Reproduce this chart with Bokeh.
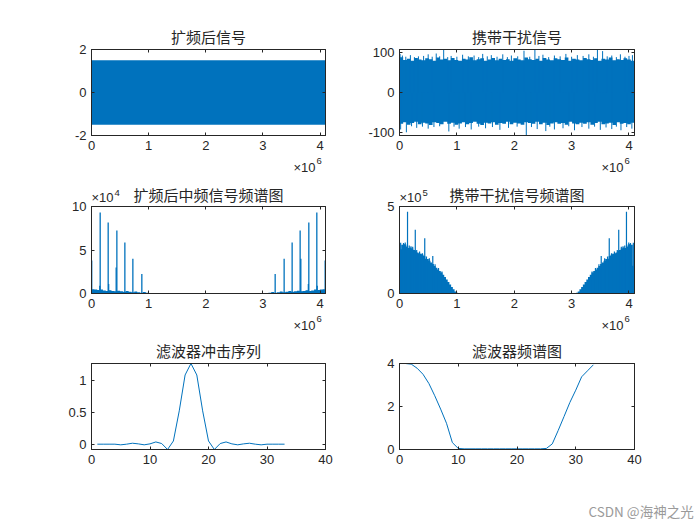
import numpy as np
from bokeh.plotting import figure
from bokeh.models import Range1d, FixedTicker, CustomJSTickFormatter, LinearAxis
from bokeh.core.properties import value
from bokeh.layouts import column, row
from bokeh.embed import file_html
from bokeh.resources import INLINE

BLUE = "#0072BD"
AX = "#262626"
CJK = "Noto Sans CJK SC"
LAT = "Liberation Sans"

# ---------------- data ----------------
titles = ["扩频后信号", "携带干扰信号", "扩频后中频信号频谱图", "携带干扰信号频谱图", "滤波器冲击序列", "滤波器频谱图"]
N_TOTAL = 4096000
x_ticks_big = [0, 1000000, 2000000, 3000000, 4000000]

# panel 1: spread signal envelope
sig1_x = [0, 4096000]
sig1_hi = [1.5, 1.5]
sig1_lo = [-1.5, -1.5]

# panel 2: jammed signal envelope (64 bins) + spikes
sig2_hi = [88, 81, 84, 79, 86, 82, 80, 85, 83, 79, 87, 82, 84, 80, 86, 81, 79, 84, 82, 88, 80, 83, 85, 79, 82, 86, 80, 84, 81, 83, 79, 85,
           82, 80, 87, 83, 81, 84, 79, 86, 82, 80, 85, 83, 81, 87, 79, 84, 82, 80, 86, 83, 81, 85, 79, 84, 82, 87, 80, 83, 81, 85, 82, 79]
sig2_lo = [-78, -74, -80, -76, -73, -79, -75, -77, -81, -74, -76, -79, -73, -78, -75, -80, -77, -74, -79, -76, -73, -78, -81, -75, -77, -74, -80, -76, -78, -73, -79, -75,
           -77, -80, -74, -76, -78, -73, -79, -75, -81, -77, -74, -78, -76, -80, -73, -77, -79, -75, -78, -74, -80, -76, -73, -79, -77, -75, -81, -74, -78, -76, -79, -75]
spk2_up_x = [10000, 50000, 110000, 190000, 260000, 330000, 420000, 500000, 570000, 640000, 700000, 770000, 840000, 900000, 1000000,
             1100000, 1200000, 1300000, 1380000, 1450000, 1530000, 1600000, 1700000, 1800000, 1880000, 1950000, 2060000, 2170000,
             2270000, 2360000, 2430000, 2500000, 2600000, 2700000, 2800000, 2900000, 3000000, 3100000, 3200000, 3300000, 3380000,
             3450000, 3540000, 3620000, 3700000, 3780000, 3850000, 3930000, 4000000, 4060000]
spk2_up_y = [96, 92, 89, 93, 88, 90, 91, 95, 89, 97, 90, 106, 88, 91, 89, 94, 90, 92, 88, 96, 90, 93, 89, 95, 88, 92, 90, 104,
             89, 107, 91, 94, 88, 92, 90, 96, 89, 93, 91, 95, 89, 106, 103, 90, 92, 88, 95, 89, 91, 93]
spk2_dn_x = [20000, 120000, 210000, 300000, 400000, 500000, 600000, 700000, 860000, 950000, 1040000, 1150000, 1250000, 1380000,
             1500000, 1620000, 1750000, 1900000, 2050000, 2210000, 2300000, 2400000, 2550000, 2620000, 2700000, 2850000, 2950000,
             3050000, 3180000, 3300000, 3400000, 3500000, 3600000, 3700000, 3780000, 3860000, 3960000, 4050000]
spk2_dn_y = [-92, -99, -84, -88, -85, -90, -86, -84, -97, -85, -90, -86, -92, -85, -89, -86, -93, -88, -85, -107, -86, -91, -96, -85,
             -92, -89, -84, -94, -86, -90, -85, -93, -87, -91, -85, -94, -86, -90]

# panel 3: spectrum of spread IF signal
spk3_x = [4000, 145000, 152000, 292000, 300000, 432000, 444000, 584000, 724000, 881000,
          3215000, 3372000, 3512000, 3652000, 3664000, 3796000, 3804000, 3944000, 3951000, 4090000]
spk3_y = [38e3, 9e3, 93e3, 81.5e3, 11e3, 30e3, 72.5e3, 58.5e3, 40e3, 22.5e3,
          22.5e3, 40e3, 58.5e3, 72.5e3, 40e3, 11e3, 81.5e3, 93e3, 9e3, 38e3]
floor3_left = [5e3, 4.5e3, 4e3, 4.5e3, 3.5e3, 3e3, 3.8e3, 3e3, 2.5e3, 3.2e3, 2.5e3, 2e3, 2.8e3, 2e3, 1.5e3, 2.2e3, 1.4e3, 1e3, 1.8e3, 0.8e3]
floor3_right = [0.8e3, 1.8e3, 1e3, 1.4e3, 2.2e3, 1.5e3, 2e3, 2.8e3, 2e3, 2.5e3, 3.2e3, 2.5e3, 3e3, 3.8e3, 3e3, 3.5e3, 4.5e3, 4e3, 4.5e3, 5e3]

# panel 4: spectrum of jammed signal (35 bins per side) + spikes
spec4_left = [255e3, 280e3, 285e3, 282e3, 270e3, 262e3, 265e3, 258e3, 250e3, 245e3, 235e3, 232e3, 228e3, 222e3, 215e3, 200e3, 198e3, 188e3,
              178e3, 170e3, 158e3, 148e3, 138e3, 130e3, 120e3, 108e3, 95e3, 80e3, 66e3, 52e3, 38e3, 24e3, 12e3, 4e3, 1e3]
spec4_mid = [2.5e3]
spec4_right = [1e3, 4e3, 12e3, 24e3, 38e3, 52e3, 66e3, 80e3, 95e3, 108e3, 120e3, 130e3, 138e3, 148e3, 158e3, 170e3, 178e3, 188e3,
               198e3, 200e3, 215e3, 222e3, 228e3, 232e3, 235e3, 245e3, 250e3, 258e3, 265e3, 262e3, 270e3, 282e3, 285e3, 280e3, 160e3]
spk4_x = [20000, 70000, 100000, 140000, 170000, 200000, 230000, 275000, 300000, 350000, 400000, 440000, 470000, 520000, 580000, 620000, 680000, 740000,
          3356000, 3416000, 3476000, 3516000, 3576000, 3626000, 3656000, 3696000, 3746000, 3796000, 3821000, 3866000, 3896000, 3926000, 3956000, 3996000, 4026000, 4076000]
spk4_y = [292e3, 290e3, 293e3, 470e3, 276e3, 272e3, 268e3, 366e3, 250e3, 242e3, 232e3, 318e3, 212e3, 202e3, 215e3, 168e3, 146e3, 126e3,
          126e3, 146e3, 168e3, 215e3, 202e3, 212e3, 318e3, 232e3, 242e3, 250e3, 366e3, 268e3, 272e3, 276e3, 470e3, 293e3, 290e3, 292e3]

# panel 5: filter impulse response
h_n = list(range(1, 34))
h_val = [0.0, 0.0, 0.0, 0.0, -0.01, 0.0, 0.015, 0.005, -0.01, 0.005, 0.035, 0.01, -0.083, 0.05, 0.52, 1.08, 1.259,
         1.08, 0.52, 0.05, -0.083, 0.01, 0.035, 0.005, -0.01, 0.005, 0.015, 0.0, -0.01, 0.0, 0.0, 0.0, 0.0]

# panel 6: filter magnitude spectrum
H_val = [4.0, 3.97, 3.78, 3.5, 3.07, 2.5, 1.88, 1.22, 0.32, 0.05, 0.03, 0.03, 0.03, 0.03, 0.03, 0.03, 0.03,
         0.03, 0.03, 0.03, 0.03, 0.03, 0.03, 0.03, 0.05, 0.26, 0.88, 1.53, 2.19, 2.76, 3.38, 3.66, 3.94]


# ---------------- helpers ----------------
def steps(x0, w, vals):
    """Turn equally wide bins into step outline coordinates."""
    n = len(vals)
    edges = x0 + np.arange(n + 1) * w
    xs = np.repeat(edges, 2)[1:-1]
    ys = np.repeat(np.asarray(vals, dtype=float), 2)
    return xs, ys


def make_fig(fw, fh, bl, br, bt, bb, xr, yr, xt, yt, xdiv, ydiv):
    p = figure(frame_width=fw, frame_height=fh, x_range=Range1d(*xr), y_range=Range1d(*yr),
               output_backend="svg", toolbar_location=None,
               min_border_left=bl, min_border_right=br, min_border_top=bt, min_border_bottom=bb)
    p.grid.grid_line_color = None
    p.outline_line_color = AX
    p.outline_line_width = 1
    p.xaxis[0].ticker = FixedTicker(ticks=xt)
    p.xaxis[0].formatter = CustomJSTickFormatter(code=f"return (tick/{xdiv}).toString();")
    p.yaxis[0].ticker = FixedTicker(ticks=yt)
    p.yaxis[0].formatter = CustomJSTickFormatter(code=f"return (tick/{ydiv}).toString();")
    top = LinearAxis(ticker=FixedTicker(ticks=xt), formatter=CustomJSTickFormatter(code="return '';"))
    right = LinearAxis(ticker=FixedTicker(ticks=yt), formatter=CustomJSTickFormatter(code="return '';"))
    p.add_layout(top, "above")
    p.add_layout(right, "right")
    for ax in p.axis:
        ax.major_tick_in = 3
        ax.major_tick_out = 0
        ax.minor_tick_line_color = None
        ax.axis_line_color = AX
        ax.major_tick_line_color = AX
        ax.major_label_text_font = LAT
        ax.major_label_text_font_size = "13px"
        ax.major_label_text_color = AX
        ax.major_label_standoff = 5
    p.xaxis[0].major_label_standoff = 9
    for ax in (top, right):
        ax.major_label_text_font_size = "0px"
        ax.major_label_standoff = 0
    return p


def put(g, x, y, text, size, font=LAT, color=AX, align="left"):
    g.text(x=[x], y=[y], text=[text], text_font=value(font), text_font_size=size,
           text_color=color, text_align=align, text_baseline="middle")


FWL, FWR = 234, 235
LB, LR = 91, 37
RB, RR = 37, 60
R1 = dict(bt=49, fh=86, bb=30)
R2 = dict(bt=41, fh=87, bb=30)
R3 = dict(bt=40, fh=86, bb=72)
TOTAL_W = LB + FWL + LR + RB + FWR + RR
TOTAL_H = sum(r["bt"] + r["fh"] + r["bb"] for r in (R1, R2, R3))

# ---------------- panels ----------------
p1 = make_fig(FWL, R1["fh"], LB, LR, R1["bt"], R1["bb"], (0, N_TOTAL), (-2, 2), x_ticks_big, [-2, 0, 2], 1e6, 1)
p1.varea(x=sig1_x, y1=sig1_lo, y2=sig1_hi, fill_color=BLUE)

p2 = make_fig(FWR, R1["fh"], RB, RR, R1["bt"], R1["bb"], (0, N_TOTAL), (-107, 107), x_ticks_big, [-100, 0, 100], 1e6, 1)
w2 = N_TOTAL / len(sig2_hi)
x2s, hi2s = steps(0, w2, sig2_hi)
_, lo2s = steps(0, w2, sig2_lo)
p2.varea(x=x2s, y1=lo2s, y2=hi2s, fill_color=BLUE)
p2.segment(x0=spk2_up_x, y0=[0] * len(spk2_up_x), x1=spk2_up_x, y1=spk2_up_y, line_color=BLUE, line_width=1)
p2.segment(x0=spk2_dn_x, y0=[0] * len(spk2_dn_x), x1=spk2_dn_x, y1=spk2_dn_y, line_color=BLUE, line_width=1)

p3 = make_fig(FWL, R2["fh"], LB, LR, R2["bt"], R2["bb"], (0, N_TOTAL), (0, 100000), x_ticks_big, [0, 50000, 100000], 1e6, 1e4)
bw3 = 50000
xa, ya = steps(0, bw3, floor3_left)
p3.varea(x=xa, y1=np.zeros(len(xa)), y2=ya, fill_color=BLUE)
xb, yb = steps(N_TOTAL - len(floor3_right) * bw3, bw3, floor3_right)
p3.varea(x=xb, y1=np.zeros(len(xb)), y2=yb, fill_color=BLUE)
p3.segment(x0=spk3_x, y0=[0] * len(spk3_x), x1=spk3_x, y1=spk3_y, line_color=BLUE, line_width=1.3)

p4 = make_fig(FWR, R2["fh"], RB, RR, R2["bt"], R2["bb"], (0, N_TOTAL), (0, 500000), x_ticks_big, [0, 500000], 1e6, 1e5)
bw4 = 30000
xa, ya = steps(0, bw4, spec4_left)
p4.varea(x=xa, y1=np.zeros(len(xa)), y2=ya, fill_color=BLUE)
mid_w = N_TOTAL - (len(spec4_left) + len(spec4_right)) * bw4
xm, ym = steps(len(spec4_left) * bw4, mid_w, spec4_mid)
p4.varea(x=xm, y1=np.zeros(len(xm)), y2=ym, fill_color=BLUE)
xb, yb = steps(N_TOTAL - len(spec4_right) * bw4, bw4, spec4_right)
p4.varea(x=xb, y1=np.zeros(len(xb)), y2=yb, fill_color=BLUE)
p4.segment(x0=spk4_x, y0=[0] * len(spk4_x), x1=spk4_x, y1=spk4_y, line_color=BLUE, line_width=1.2)

p5 = make_fig(FWL, R3["fh"], LB, LR, R3["bt"], R3["bb"], (0, 40), (-0.083, 1.259), [0, 10, 20, 30, 40], [0, 0.5, 1], 1, 1)
p5.line(h_n, h_val, line_color=BLUE, line_width=1)

p6 = make_fig(FWR, R3["fh"], RB, RR, R3["bt"], R3["bb"], (0, 40), (0, 4), [0, 10, 20, 30, 40], [0, 2, 4], 1, 1)
p6.line(h_n, H_val, line_color=BLUE, line_width=1)

# ---------------- transparent text overlay (page pixel coordinates) ----------------
ov = figure(width=TOTAL_W, height=TOTAL_H, x_range=Range1d(0, TOTAL_W), y_range=Range1d(TOTAL_H, 0),
            output_backend="svg", toolbar_location=None, min_border=0,
            x_axis_location=None, y_axis_location=None,
            background_fill_color=None, border_fill_color=None, outline_line_color=None)
ov.grid.visible = False
try:
    ov.margin = (-TOTAL_H, 0, 0, 0)
except Exception:
    pass

CL, CR = 208, 516.5
DX = 308  # offset between left and right column frames
put(ov, CL, 36, titles[0], "15px", font=CJK, align="center")
put(ov, CR, 36, titles[1], "15px", font=CJK, align="center")
put(ov, CL, 194, titles[2], "15px", font=CJK, align="center")
put(ov, CR, 194, titles[3], "15px", font=CJK, align="center")
put(ov, CL, 350, titles[4], "15px", font=CJK, align="center")
put(ov, CR, 350, titles[5], "15px", font=CJK, align="center")
for yb_ in (167, 325):
    for xl in (293, 293 + DX):
        put(ov, xl, yb_, "×10", "13px")
        put(ov, xl + 23, yb_ - 7, "6", "9.5px")
put(ov, 91, 197, "×10", "13px")
put(ov, 114, 192, "4", "9.5px")
put(ov, 399, 197, "×10", "13px")
put(ov, 422, 192, "5", "9.5px")
put(ov, 588, 510, "CSDN @海神之光", "13.5px", font=CJK, color="#9a9a9a")

layout = column(row(p1, p2), row(p3, p4), row(p5, p6), ov)
open("out.html", "w").write(file_html(layout, INLINE))
